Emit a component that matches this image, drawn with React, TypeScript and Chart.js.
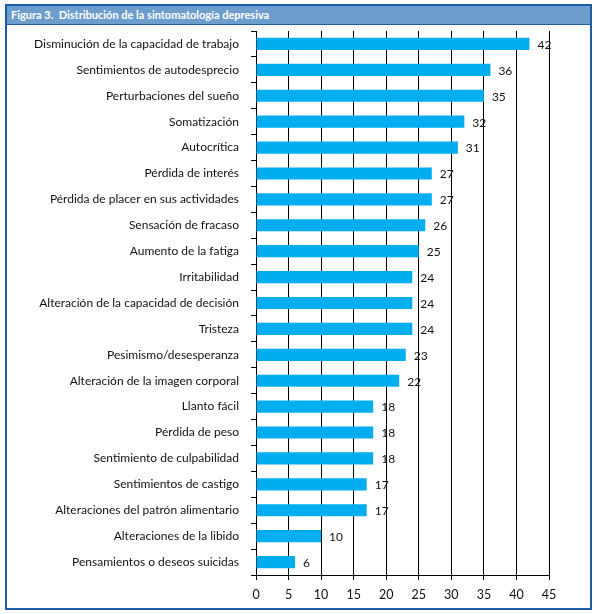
import React, { useEffect, useRef } from "react";
import { Chart, registerables } from "chart.js";

Chart.register(...registerables);

const categories = [
  "Disminución de la capacidad de trabajo",
  "Sentimientos de autodesprecio",
  "Perturbaciones del sueño",
  "Somatización",
  "Autocrítica",
  "Pérdida de interés",
  "Pérdida de placer en sus actividades",
  "Sensación de fracaso",
  "Aumento de la fatiga",
  "Irritabilidad",
  "Alteración de la capacidad de decisión",
  "Tristeza",
  "Pesimismo/desesperanza",
  "Alteración de la imagen corporal",
  "Llanto fácil",
  "Pérdida de peso",
  "Sentimiento de culpabilidad",
  "Sentimientos de castigo",
  "Alteraciones del patrón alimentario",
  "Alteraciones de la libido",
  "Pensamientos o deseos suicidas",
];

const values = [42, 36, 35, 32, 31, 27, 27, 26, 25, 24, 24, 24, 23, 22, 18, 18, 18, 17, 17, 10, 6];

const xTicks = [0, 5, 10, 15, 20, 25, 30, 35, 40, 45];

const title = "Figura 3.  Distribución de la sintomatología depresiva";

const FONT = "Lato, 'Open Sans', sans-serif";

const valueLabels = {
  id: "valueLabels",
  afterDatasetsDraw(chart: any) {
    const ctx = chart.ctx;
    const meta = chart.getDatasetMeta(0);
    ctx.save();
    ctx.fillStyle = "#111";
    ctx.font = `12px ${FONT}`;
    ctx.textAlign = "left";
    ctx.textBaseline = "middle";
    meta.data.forEach((bar: any, i: number) => {
      ctx.fillText(String(values[i]), bar.x + 8, bar.y + 1);
    });
    ctx.restore();
  },
};

export default function App() {
  const ref = useRef<HTMLCanvasElement>(null);
  useEffect(() => {
    document.body.style.margin = "0";
    const chart = new Chart(ref.current!, {
      type: "bar",
      data: {
        labels: categories,
        datasets: [
          {
            data: values,
            backgroundColor: "#00adef",
            borderWidth: 0,
            barPercentage: 0.47,
            categoryPercentage: 1,
          },
        ],
      },
      options: {
        indexAxis: "y",
        animation: false,
        responsive: false,
        maintainAspectRatio: false,
        layout: { padding: { top: 5, right: 40, bottom: 3, left: 0 } },
        plugins: { legend: { display: false }, tooltip: { enabled: false } },
        scales: {
          x: {
            min: 0,
            max: 45,
            afterBuildTicks: (scale: any) => {
              scale.ticks = xTicks.map((v) => ({ value: v }));
            },
            afterFit: (scale: any) => {
              scale.height = 30;
              scale.paddingLeft = 0;
              scale.paddingRight = 0;
            },
            grid: { color: "#000", lineWidth: 1, drawTicks: true, tickLength: 5 },
            border: { color: "#000", width: 1 },
            ticks: { color: "#111", font: { family: FONT, size: 12.5 }, padding: 7 },
          },
          y: {
            afterFit: (scale: any) => {
              scale.width = 249;
              scale.paddingTop = 0;
              scale.paddingBottom = 0;
            },
            grid: { color: "#000", drawOnChartArea: false, drawTicks: true, tickLength: 5, offset: true },
            border: { color: "#000", width: 1 },
            ticks: { color: "#111", font: { family: FONT, size: 12 }, padding: 12, autoSkip: false },
          },
        },
      },
      plugins: [valueLabels],
    });
    return () => chart.destroy();
  }, []);

  return (
    <div style={{ position: "relative", width: 598, height: 614, background: "#fff" }}>
      <div
        style={{
          position: "absolute",
          left: 5,
          top: 4,
          width: 583,
          height: 602,
          border: "2px solid #1e5aa6",
          boxSizing: "content-box",
        }}
      >
        <div
          style={{
            height: 18,
            background: "#6c9dcd",
            borderBottom: "1px solid #1e5aa6",
            color: "#fff",
            fontFamily: FONT,
            fontWeight: "bold",
            fontSize: 11,
            lineHeight: "18px",
            paddingLeft: 4,
            whiteSpace: "pre",
          }}
        >
          {title}
        </div>
        <canvas
          ref={ref}
          width={582}
          height={582}
          style={{ position: "absolute", left: 0, top: 20, width: 582, height: 582 }}
        />
      </div>
    </div>
  );
}
